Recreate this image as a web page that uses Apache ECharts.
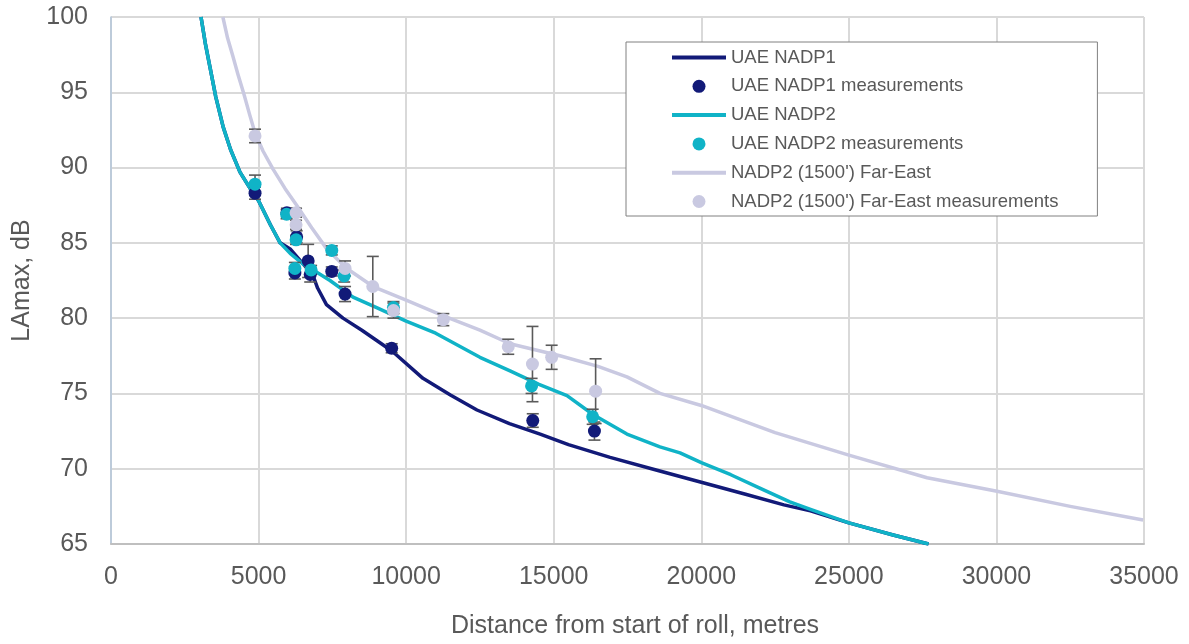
<!DOCTYPE html>
<html>
<head>
<meta charset="utf-8">
<script src="https://cdn.jsdelivr.net/npm/echarts@6/dist/echarts.min.js"></script>
<style>html,body{margin:0;padding:0;background:#fff}#c{width:1189px;height:644px}</style>
</head>
<body>
<div id="c"></div>
<script>
// ---- data ----
const xTicks = [0, 5000, 10000, 15000, 20000, 25000, 30000, 35000];
const yTicks = [65, 70, 75, 80, 85, 90, 95, 100];

const nadp1X = [3050, 3200, 3350, 3550, 3800, 4050, 4370, 4780, 5000, 5400, 5730, 6070, 6640, 6850, 7000, 7300, 7860, 8500, 9530, 10570, 11500, 12400, 13500, 14540, 15500, 16910, 18500, 20000, 21500, 22800, 23700, 25000, 26500, 27700];
const nadp1Y = [100, 98.2, 96.7, 94.7, 92.7, 91.2, 89.7, 88.4, 87.8, 86.2, 85.0, 84.6, 83.3, 82.8, 82.0, 80.9, 80.0, 79.2, 77.8, 76.0, 74.9, 73.9, 73.0, 72.3, 71.6, 70.75, 69.9, 69.1, 68.3, 67.6, 67.2, 66.4, 65.6, 65.0];

const nadp2X = [3050, 3200, 3350, 3550, 3800, 4050, 4370, 4780, 5000, 5400, 5730, 6070, 6500, 6850, 7420, 8200, 9000, 10000, 11000, 12500, 13520, 14500, 15450, 16330, 17480, 18600, 19280, 20000, 21000, 22000, 23000, 23700, 25000, 26500, 27700];
const nadp2Y = [100, 98.2, 96.7, 94.7, 92.7, 91.2, 89.7, 88.4, 87.8, 86.2, 85.0, 84.3, 83.6, 83.2, 82.5, 81.4, 80.7, 79.8, 79.0, 77.4, 76.5, 75.6, 74.85, 73.6, 72.3, 71.45, 71.05, 70.4, 69.6, 68.7, 67.8, 67.3, 66.4, 65.6, 65.0];

const feX = [3790, 3950, 4130, 4300, 4500, 4700, 4880, 5150, 5490, 5900, 6290, 6800, 7310, 7990, 8880, 10000, 11200, 12500, 13520, 15210, 16500, 17480, 18600, 20000, 22500, 25000, 27650, 30020, 32500, 34970];
const feY = [100, 98.6, 97.4, 96.2, 94.9, 93.5, 92.3, 91.1, 89.9, 88.6, 87.5, 86.0, 84.6, 83.3, 82.1, 81.2, 80.2, 79.2, 78.3, 77.5, 76.8, 76.1, 75.0, 74.2, 72.4, 70.9, 69.4, 68.5, 67.5, 66.6];

const nadp1MeasX = [4880, 5960, 6290, 6230, 6680, 6750, 7480, 7930, 9510, 14290, 16380];
const nadp1MeasY = [88.3, 87.0, 85.4, 83.0, 83.8, 82.9, 83.1, 81.6, 78.0, 73.2, 72.5];
const nadp1MeasErr = [0.4, 0.3, 0.4, 0.4, 1.1, 0.5, 0.3, 0.5, 0.3, 0.45, 0.6];

const nadp2MeasX = [4880, 5950, 6270, 6230, 6780, 7480, 7900, 9570, 14250, 16320];
const nadp2MeasY = [88.9, 86.9, 85.2, 83.3, 83.2, 84.5, 82.8, 80.7, 75.5, 73.45];
const nadp2MeasErr = [0.6, 0.3, 0.3, 0.4, 0.3, 0.3, 0.4, 0.4, 0.5, 0.5];

const feMeasX = [4880, 6270, 6270, 7930, 8870, 9570, 11260, 13460, 14280, 14930, 16420];
const feMeasY = [92.1, 87.0, 86.2, 83.3, 82.1, 80.5, 79.9, 78.1, 76.95, 77.4, 75.15];
const feMeasErr = [0.45, 0.3, 0.3, 0.5, 2.0, 0.5, 0.4, 0.5, 2.5, 0.8, 2.15];

const names = ['UAE NADP1', 'UAE NADP1 measurements', 'UAE NADP2', 'UAE NADP2 measurements', "NADP2 (1500') Far-East", "NADP2 (1500') Far-East measurements"];
const colors = { navy: '#121a78', teal: '#10b3c7', lav: '#c9c9e1' };

// ---- build ----
const zip = (a, b) => a.map((v, i) => [v, b[i]]);
const zip3 = (a, b, c) => a.map((v, i) => [v, b[i], c[i]]);
const FONT = '"Liberation Sans", Arial, sans-serif';
const LINE_ICON = 'path://M0,0 L54,0 L54,4 L0,4 Z';

function lineSeries(name, xs, ys, color) {
  return { name, type: 'line', data: zip(xs, ys), showSymbol: false, symbol: 'none',
    smooth: false, lineStyle: { color, width: 3.5, join: 'round' }, itemStyle: { color }, z: 2, silent: true };
}
function scatterSeries(name, xs, ys, color, z) {
  return { name, type: 'scatter', data: zip(xs, ys), symbol: 'circle', symbolSize: 13,
    itemStyle: { color, opacity: 1 }, z };
}
function errSeries(xs, ys, es) {
  return { type: 'custom', data: zip3(xs, ys, es), z: 3, silent: true,
    renderItem: function (params, api) {
      const x = api.value(0), y = api.value(1), e = api.value(2);
      const top = api.coord([x, y + e]);
      const bot = api.coord([x, y - e]);
      const w = 6;
      const st = { stroke: '#5a5a5a', lineWidth: 1.6 };
      return { type: 'group', children: [
        { type: 'line', shape: { x1: top[0], y1: top[1], x2: bot[0], y2: bot[1] }, style: st },
        { type: 'line', shape: { x1: top[0] - w, y1: top[1], x2: top[0] + w, y2: top[1] }, style: st },
        { type: 'line', shape: { x1: bot[0] - w, y1: bot[1], x2: bot[0] + w, y2: bot[1] }, style: st }
      ] };
    } };
}

const chart = echarts.init(document.getElementById('c'), null, { renderer: 'canvas' });
chart.setOption({
  animation: false,
  backgroundColor: '#fff',
  textStyle: { fontFamily: FONT },
  grid: { left: 111, right: 45, top: 17, bottom: 97, containLabel: false },
  legend: {
    orient: 'vertical', left: 626, top: 42,
    padding: [6, 39, 5, 46], itemGap: 9.8, itemWidth: 54, itemHeight: 13,
    borderColor: '#808080', borderWidth: 1, backgroundColor: '#fff',
    textStyle: { fontSize: 18.5, color: '#595959', fontFamily: FONT },
    data: names.map((n, i) => i % 2 === 0 ? { name: n, icon: LINE_ICON } : { name: n, icon: 'circle' })
  },
  xAxis: {
    type: 'value', min: xTicks[0], max: xTicks[xTicks.length - 1], interval: 5000,
    name: 'Distance from start of roll, metres', nameLocation: 'middle', nameGap: 70,
    nameTextStyle: { fontSize: 25, color: '#595959', fontFamily: FONT, padding: [0, 0, 0, 15] },
    axisLine: { show: true, lineStyle: { color: '#bfbfbf', width: 2 } },
    axisTick: { show: false },
    axisLabel: { fontSize: 25, color: '#595959', margin: 21, fontFamily: FONT, formatter: v => String(v) },
    splitLine: { show: true, lineStyle: { color: '#d9d9d9', width: 2 } }
  },
  yAxis: {
    type: 'value', min: yTicks[0], max: yTicks[yTicks.length - 1], interval: 5,
    name: 'LAmax, dB', nameLocation: 'middle', nameGap: 76, nameRotate: 90,
    nameTextStyle: { fontSize: 25, color: '#595959', fontFamily: FONT },
    axisLine: { show: true, lineStyle: { color: '#b3c6da', width: 1.5 } },
    axisTick: { show: false },
    axisLabel: { fontSize: 25, color: '#595959', margin: 23, fontFamily: FONT, formatter: v => String(v) },
    splitLine: { show: true, lineStyle: { color: '#d9d9d9', width: 2 } }
  },
  series: [
    lineSeries(names[0], nadp1X, nadp1Y, colors.navy),
    lineSeries(names[2], nadp2X, nadp2Y, colors.teal),
    lineSeries(names[4], feX, feY, colors.lav),
    errSeries(nadp1MeasX, nadp1MeasY, nadp1MeasErr),
    errSeries(nadp2MeasX, nadp2MeasY, nadp2MeasErr),
    errSeries(feMeasX, feMeasY, feMeasErr),
    scatterSeries(names[1], nadp1MeasX, nadp1MeasY, colors.navy, 4),
    scatterSeries(names[3], nadp2MeasX, nadp2MeasY, colors.teal, 5),
    scatterSeries(names[5], feMeasX, feMeasY, colors.lav, 6)
  ]
});
</script>
</body>
</html>
